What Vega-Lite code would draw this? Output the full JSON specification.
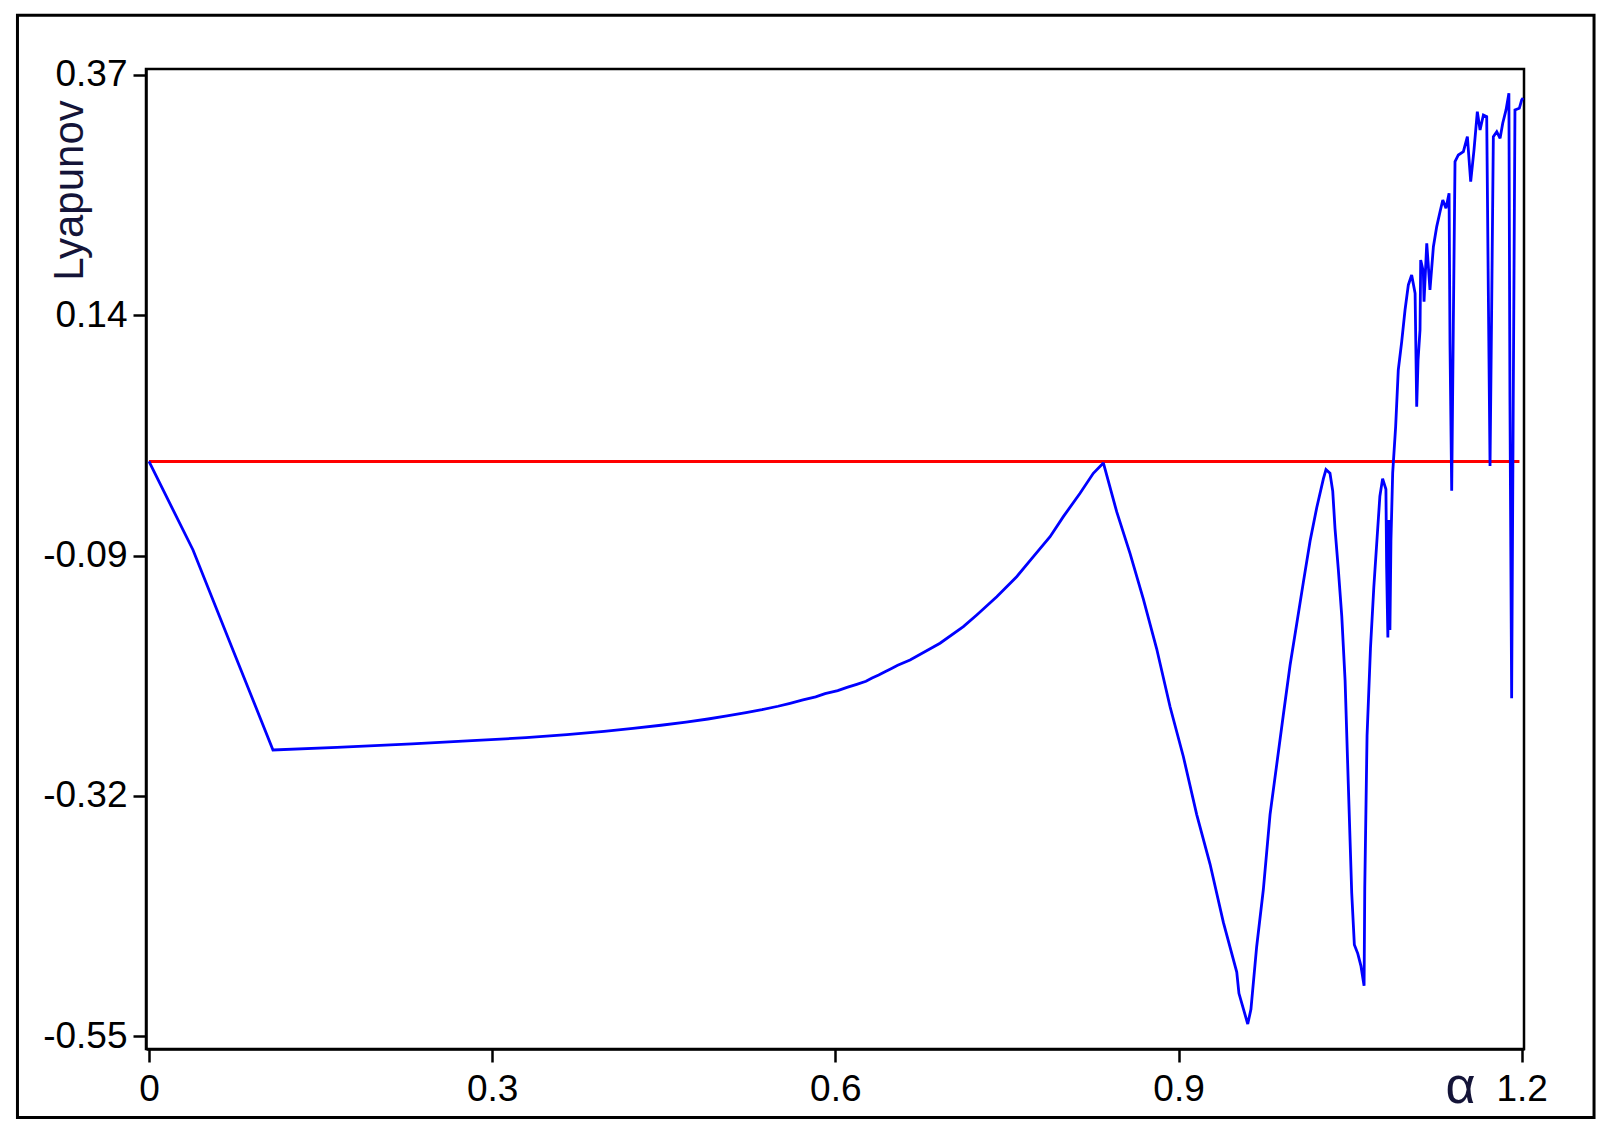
{
  "$schema": "https://vega.github.io/schema/vega-lite/v6.json",
  "autosize": {"type": "none"},
  "width": 1378,
  "height": 980,
  "padding": {"left": 146, "top": 69, "right": 87, "bottom": 85},
  "background": "white",
  "config": {
    "view": {"stroke": "black", "strokeWidth": 2.5},
    "axis": {
      "grid": false,
      "domainColor": "black",
      "domainWidth": 2.5,
      "tickColor": "black",
      "tickWidth": 2.5,
      "tickSize": 13,
      "labelColor": "black",
      "labelFont": "Liberation Sans",
      "labelFontSize": 37,
      "titleFont": "Liberation Sans",
      "titleFontWeight": "normal",
      "titleColor": "#141438"
    }
  },
  "datasets": {
    "curve": [
      {"a": 0, "L": 0}, {"a": 0.0385, "L": -0.0847}, {"a": 0.0734, "L": -0.1804}, {"a": 0.1084, "L": -0.2762},
      {"a": 0.1644, "L": -0.2736}, {"a": 0.2299, "L": -0.2704}, {"a": 0.2824, "L": -0.2673}, {"a": 0.3296, "L": -0.2644},
      {"a": 0.3654, "L": -0.2615}, {"a": 0.3978, "L": -0.2583}, {"a": 0.4231, "L": -0.2554}, {"a": 0.4476, "L": -0.2525},
      {"a": 0.4695, "L": -0.2494}, {"a": 0.4887, "L": -0.2465}, {"a": 0.5053, "L": -0.2436}, {"a": 0.5219, "L": -0.2405},
      {"a": 0.5359, "L": -0.2376}, {"a": 0.5499, "L": -0.2343}, {"a": 0.5604, "L": -0.2315}, {"a": 0.5717, "L": -0.2283},
      {"a": 0.5828, "L": -0.2254}, {"a": 0.591, "L": -0.2223}, {"a": 0.6021, "L": -0.2194}, {"a": 0.6102, "L": -0.2162},
      {"a": 0.6187, "L": -0.2133}, {"a": 0.6268, "L": -0.2104}, {"a": 0.6321, "L": -0.2073}, {"a": 0.6379, "L": -0.2044},
      {"a": 0.6434, "L": -0.2012}, {"a": 0.6487, "L": -0.1983}, {"a": 0.6545, "L": -0.1951}, {"a": 0.6653, "L": -0.19},
      {"a": 0.6915, "L": -0.174}, {"a": 0.7119, "L": -0.1581}, {"a": 0.7236, "L": -0.1469}, {"a": 0.7411, "L": -0.1294},
      {"a": 0.7585, "L": -0.1103}, {"a": 0.7731, "L": -0.0911}, {"a": 0.7877, "L": -0.072}, {"a": 0.7993, "L": -0.0528},
      {"a": 0.8139, "L": -0.0304}, {"a": 0.8255, "L": -0.0113}, {"a": 0.8343, "L": -0.0014},
      {"a": 0.846, "L": -0.0483}, {"a": 0.8576, "L": -0.088}, {"a": 0.8692, "L": -0.1316}, {"a": 0.8809, "L": -0.1793},
      {"a": 0.8926, "L": -0.2348}, {"a": 0.9042, "L": -0.2824}, {"a": 0.9159, "L": -0.338}, {"a": 0.9276, "L": -0.3856},
      {"a": 0.9392, "L": -0.4412}, {"a": 0.9509, "L": -0.4888}, {"a": 0.9528, "L": -0.5091}, {"a": 0.9605, "L": -0.5385},
      {"a": 0.9633, "L": -0.5244}, {"a": 0.9683, "L": -0.4645}, {"a": 0.9741, "L": -0.4102}, {"a": 0.98, "L": -0.338},
      {"a": 0.9858, "L": -0.2904}, {"a": 0.9916, "L": -0.2427}, {"a": 0.9975, "L": -0.1951}, {"a": 1.0033, "L": -0.1555},
      {"a": 1.0091, "L": -0.1157}, {"a": 1.015, "L": -0.0761}, {"a": 1.0208, "L": -0.0443}, {"a": 1.0266, "L": -0.0166},
      {"a": 1.0289, "L": -0.0078}, {"a": 1.0324, "L": -0.0112}, {"a": 1.0348, "L": -0.0283}, {"a": 1.0368, "L": -0.0642},
      {"a": 1.0397, "L": -0.1035}, {"a": 1.0427, "L": -0.148}, {"a": 1.0456, "L": -0.2096}, {"a": 1.0484, "L": -0.3086},
      {"a": 1.0514, "L": -0.413}, {"a": 1.0537, "L": -0.4625}, {"a": 1.0567, "L": -0.4711}, {"a": 1.0595, "L": -0.4831},
      {"a": 1.0622, "L": -0.5018}, {"a": 1.0628, "L": -0.4078}, {"a": 1.0648, "L": -0.2625}, {"a": 1.0678, "L": -0.1787},
      {"a": 1.0707, "L": -0.1206}, {"a": 1.0736, "L": -0.0728}, {"a": 1.076, "L": -0.0334}, {"a": 1.0784, "L": -0.0164},
      {"a": 1.0813, "L": -0.0266}, {"a": 1.0819, "L": -0.1001}, {"a": 1.083, "L": -0.1685}, {"a": 1.0839, "L": -0.056},
      {"a": 1.0848, "L": -0.1613}, {"a": 1.0857, "L": -0.0752}, {"a": 1.0872, "L": -0.0112}, {"a": 1.0898, "L": 0.0333},
      {"a": 1.0921, "L": 0.0876}, {"a": 1.0951, "L": 0.1147}, {"a": 1.098, "L": 0.145}, {"a": 1.1009, "L": 0.169},
      {"a": 1.1038, "L": 0.1785}, {"a": 1.1068, "L": 0.161}, {"a": 1.1082, "L": 0.0525}, {"a": 1.1094, "L": 0.0972},
      {"a": 1.1111, "L": 0.1259}, {"a": 1.1117, "L": 0.1929}, {"a": 1.114, "L": 0.1817}, {"a": 1.1146, "L": 0.153},
      {"a": 1.117, "L": 0.2089}, {"a": 1.1198, "L": 0.1642}, {"a": 1.1228, "L": 0.2056}, {"a": 1.1257, "L": 0.2248},
      {"a": 1.1286, "L": 0.2391}, {"a": 1.131, "L": 0.2503}, {"a": 1.1338, "L": 0.2424}, {"a": 1.1365, "L": 0.2567},
      {"a": 1.1373, "L": 0.1132}, {"a": 1.1388, "L": -0.028}, {"a": 1.1402, "L": 0.129}, {"a": 1.1417, "L": 0.287},
      {"a": 1.1446, "L": 0.2934}, {"a": 1.149, "L": 0.2966}, {"a": 1.1525, "L": 0.3109}, {"a": 1.1554, "L": 0.2679},
      {"a": 1.1583, "L": 0.2982}, {"a": 1.1612, "L": 0.3349}, {"a": 1.1636, "L": 0.3173}, {"a": 1.1665, "L": 0.3317},
      {"a": 1.1694, "L": 0.3301}, {"a": 1.1708, "L": 0.1642}, {"a": 1.1723, "L": -0.0043}, {"a": 1.1738, "L": 0.1546},
      {"a": 1.1752, "L": 0.3109}, {"a": 1.1782, "L": 0.3157}, {"a": 1.1811, "L": 0.3094}, {"a": 1.1834, "L": 0.3238},
      {"a": 1.1863, "L": 0.3365}, {"a": 1.1888, "L": 0.3525}, {"a": 1.1897, "L": 0.062}, {"a": 1.1912, "L": -0.2267},
      {"a": 1.1926, "L": 0.0572}, {"a": 1.1941, "L": 0.3365}, {"a": 1.1979, "L": 0.3381}, {"a": 1.2, "L": 0.3461},
      {"a": 1.2012, "L": 0.348}
    ],
    "zero": [{"a": 0, "a2": 1.198, "L": 0}]
  },
  "layer": [
    {
      "data": {"values": [{}]},
      "mark": {"type": "rect", "filled": false, "fill": null, "stroke": "black", "strokeWidth": 3, "clip": false},
      "encoding": {
        "x": {"datum": -0.11496, "type": "quantitative", "scale": {"domain": [-0.0026, 1.202], "nice": false, "zero": false}},
        "x2": {"datum": 1.26322},
        "y": {"datum": 0.42715, "type": "quantitative", "scale": {"domain": [-0.5624, 0.3757], "nice": false, "zero": false}},
        "y2": {"datum": -0.62799}
      }
    },
    {
      "data": {"name": "zero"},
      "mark": {"type": "rule", "color": "#ff0000", "strokeWidth": 3},
      "encoding": {
        "x": {"field": "a", "type": "quantitative"},
        "x2": {"field": "a2"},
        "y": {"field": "L", "type": "quantitative"}
      }
    },
    {
      "data": {"name": "curve"},
      "mark": {"type": "line", "color": "#0000ff", "strokeWidth": 2.8, "strokeJoin": "miter", "strokeMiterLimit": 2},
      "encoding": {
        "x": {
          "field": "a", "type": "quantitative",
          "scale": {"domain": [-0.0026, 1.202], "nice": false, "zero": false},
          "axis": {
            "values": [0, 0.3, 0.6, 0.9, 1.2],
            "format": "~g",
            "labelPadding": 9,
            "title": "α",
            "titleFontSize": 52,
            "titleAlign": "center",
            "titleBaseline": "alphabetic",
            "titleX": 1314,
            "titleY": 53
          }
        },
        "y": {
          "field": "L", "type": "quantitative",
          "scale": {"domain": [-0.5624, 0.3757], "nice": false, "zero": false},
          "axis": {
            "values": [-0.55, -0.32, -0.09, 0.14, 0.37],
            "labelExpr": "datum.value < 0 ? '-' + format(-datum.value, '.2f') : format(datum.value, '.2f')",
            "labelPadding": 6,
            "title": "Lyapunov",
            "titleFontSize": 42,
            "titleAngle": 270,
            "titleAlign": "center",
            "titleBaseline": "alphabetic",
            "titleX": -64,
            "titleY": 121
          }
        }
      }
    }
  ]
}
